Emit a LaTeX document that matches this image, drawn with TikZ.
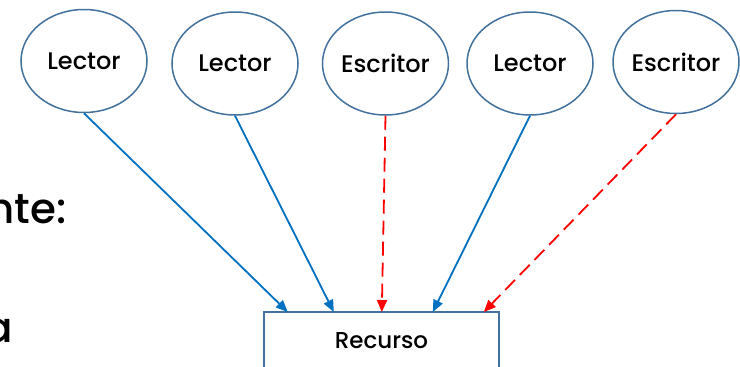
\documentclass[tikz,border=0pt]{standalone}
\usepackage{fontspec}
\setmainfont{Poppins}[UprightFont=* Medium]
\usetikzlibrary{shapes.geometric,arrows.meta}
\definecolor{outl}{HTML}{41719C}
\definecolor{blu}{HTML}{0070C0}
\definecolor{rd}{HTML}{FF0000}
\tikzset{
  actor/.style={ellipse, draw=outl, line width=1.5pt, minimum width=126pt, minimum height=103pt, inner sep=0pt, font=\fontsize{24}{26}\selectfont},
  rdarrow/.style={draw=blu, line width=1.8pt, -{Triangle[length=12pt,width=10pt]}},
  wrarrow/.style={draw=rd, line width=1.8pt, dash pattern=on 14pt off 7pt, -{Triangle[length=12pt,width=10pt]}},
  bigtext/.style={inner sep=0pt, font=\fontsize{42}{44}\selectfont}
}
\begin{document}
\begin{tikzpicture}[x=1pt,y=-1pt]
\useasboundingbox (0,0) rectangle (740,367);
\clip (0,0) rectangle (740,367);
\node[actor] (e1) at (84,61) {Lector};
\node[actor] (e2) at (235,63.5) {Lector};
\node[actor] (e3) at (385.5,63.5) {Escritor};
\node[actor] (e4) at (530,63.5) {Lector};
\node[actor] (e5) at (676,62) {Escritor};
\node[anchor=north, minimum width=235pt, minimum height=56pt, inner sep=0pt, font=\fontsize{23}{25}\selectfont] (res) at (381.5,312) {Recurso};
\draw[outl, line width=1.5pt] ([yshift=-20pt]res.south west) -- (res.north west) -- (res.north east) -- ([yshift=-20pt]res.south east);
\node[bigtext, anchor=base east] (t1) at (67,223) {nte:};
\node[bigtext, anchor=base east] (t2) at (13,342) {a};
\draw[rdarrow] (e1.south) -- ([xshift=24pt]res.north west);
\draw[rdarrow] (e2.south) -- ([xshift=70pt]res.north west);
\draw[wrarrow] (e3.south) -- ([xshift=118pt]res.north west);
\draw[rdarrow] (e4.south) -- ([xshift=169pt]res.north west);
\draw[wrarrow] (e5.south) -- ([xshift=220pt]res.north west);
\end{tikzpicture}
\end{document}
